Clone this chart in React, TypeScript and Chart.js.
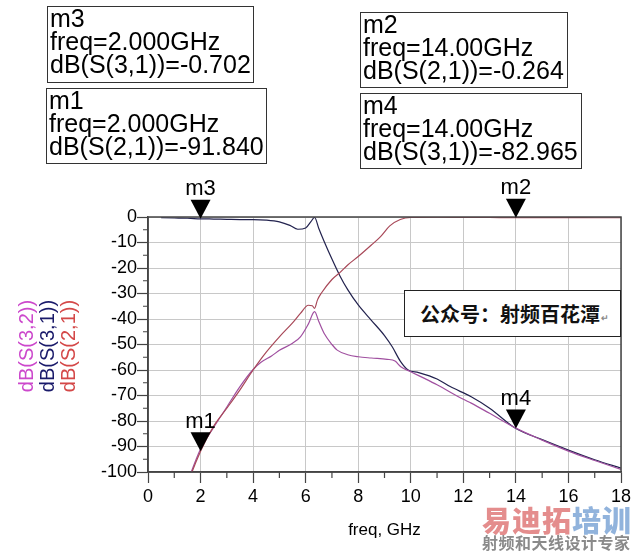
import React, { useEffect, useRef } from 'react';
import { Chart, registerables } from 'chart.js';

Chart.register(...registerables);

// ---- data ----
const s21Freq = [0.5, 1.0, 1.5, 2.0, 2.5, 3.0, 3.5, 4.0, 4.5, 5.0, 5.5, 5.8, 6.1, 6.25, 6.34, 6.45, 6.6, 7.0, 7.3, 7.6, 8.0, 8.5, 8.85, 9.2, 9.6, 10.0, 11, 12, 13, 14, 15, 16, 17, 18];
const s21dB = [-140, -122, -105, -91.84, -82, -75, -67.8, -60, -53, -47, -41.5, -37.8, -34.6, -34.8, -35.8, -32.5, -29.8, -24.5, -21.8, -18.8, -15.5, -11, -7.7, -3.5, -1.0, -0.2, -0.1, -0.15, -0.2, -0.264, -0.25, -0.25, -0.3, -0.3];

const s31Freq = [0.5, 1.0, 1.5, 2.0, 2.5, 3.0, 3.5, 4.0, 4.5, 5.0, 5.4, 5.7, 6.0, 6.2, 6.34, 6.5, 6.7, 7.0, 7.3, 7.6, 8.0, 8.5, 9.0, 9.3, 9.6, 9.9, 10.3, 11, 11.5, 12.3, 13, 14, 15, 16, 17, 18];
const s31dB = [-0.3, -0.4, -0.5, -0.702, -0.8, -0.9, -1.0, -1.0, -1.2, -1.9, -3.3, -4.8, -4.3, -1.8, -0.2, -4.5, -9.5, -16.5, -23, -28.5, -34.5, -40.5, -46.5, -51, -56.5, -60, -61, -63.5, -66.5, -70.5, -75, -82.965, -87.3, -91.4, -95.2, -98.5];

const s32Freq = [0.5, 1.0, 1.5, 2.0, 2.5, 3.0, 3.5, 4.0, 4.3, 4.7, 5.0, 5.5, 5.8, 6.1, 6.34, 6.5, 6.7, 7.0, 7.2, 7.6, 8.0, 8.5, 9.1, 9.4, 9.62, 10.0, 10.5, 11, 12, 12.3, 13, 14, 15, 16, 17, 18];
const s32dB = [-135, -118, -104, -91, -82.5, -74.5, -66.5, -59.8, -57, -54.5, -52.3, -49.5, -47, -42, -37.1, -41, -45.6, -50, -52.2, -54, -54.8, -55.3, -55.8, -56.5, -58.7, -60.7, -63.2, -65.8, -71.5, -73, -77, -82.8, -87.5, -91.8, -95.5, -99];

const traceNames = ['dB(S(3,2))', 'dB(S(3,1))', 'dB(S(2,1))'];

const markerNames = ['m3', 'm1', 'm2', 'm4'];
const markerFreq = [2, 2, 14, 14];
const markerValue = [-0.702, -91.84, -0.264, -82.965];
const markerTrace = ['dB(S(3,1))', 'dB(S(2,1))', 'dB(S(2,1))', 'dB(S(3,1))'];

const xTitle = 'freq, GHz';
const noteText = '公众号：射频百花潭';

// ---- styling ----
const FONT = '"Liberation Sans", Arial, sans-serif';
const lineColors = { s32: '#a050a0', s31: '#22224e', s21: '#a84858' };
const legendColors = ['#cc48cc', '#1a1a6a', '#d44848'];
const boxPos = [
  { left: 47, top: 6, width: 207, height: 77 },
  { left: 46, top: 88, width: 221, height: 76 },
  { left: 360, top: 12, width: 208, height: 76 },
  { left: 360, top: 93, width: 222, height: 76 },
];

const toPts = (xs: number[], ys: number[]) => xs.map((x, i) => ({ x, y: ys[i] }));

const overlayPlugin = {
  id: 'adsOverlay',
  afterDraw(chart: any) {
    const { ctx, chartArea, scales } = chart;
    const xs = scales.x;
    const ys = scales.y;
    ctx.save();
    // frame
    ctx.strokeStyle = '#444';
    ctx.lineWidth = 1.5;
    ctx.strokeRect(chartArea.left, chartArea.top, chartArea.right - chartArea.left, chartArea.bottom - chartArea.top);
    // minor ticks
    ctx.lineWidth = 1.2;
    ctx.beginPath();
    for (let v = 1; v < 18; v += 2) {
      const px = xs.getPixelForValue(v);
      ctx.moveTo(px, chartArea.bottom);
      ctx.lineTo(px, chartArea.bottom + 6);
    }
    for (let v = -95; v < 0; v += 10) {
      const py = ys.getPixelForValue(v);
      ctx.moveTo(chartArea.left, py);
      ctx.lineTo(chartArea.left - 5, py);
    }
    ctx.stroke();
    // markers
    ctx.fillStyle = '#000';
    ctx.font = `22px ${FONT}`;
    ctx.textAlign = 'center';
    ctx.textBaseline = 'alphabetic';
    markerNames.forEach((name, i) => {
      const px = xs.getPixelForValue(markerFreq[i]);
      const py = ys.getPixelForValue(markerValue[i]);
      ctx.beginPath();
      ctx.moveTo(px, py);
      ctx.lineTo(px - 10, py - 19);
      ctx.lineTo(px + 10, py - 19);
      ctx.closePath();
      ctx.fill();
      ctx.fillText(name, px, py - 23.5);
    });
    ctx.restore();
  },
};

export default function App() {
  const ref = useRef<HTMLCanvasElement | null>(null);

  useEffect(() => {
    document.body.style.margin = '0';
    if (!ref.current) return;
    const chart = new Chart(ref.current, {
      type: 'line',
      data: {
        datasets: [
          { label: traceNames[2], data: toPts(s21Freq, s21dB), borderColor: lineColors.s21, borderWidth: 1.2, pointRadius: 0, cubicInterpolationMode: 'monotone' },
          { label: traceNames[0], data: toPts(s32Freq, s32dB), borderColor: lineColors.s32, borderWidth: 1.2, pointRadius: 0, cubicInterpolationMode: 'monotone' },
          { label: traceNames[1], data: toPts(s31Freq, s31dB), borderColor: lineColors.s31, borderWidth: 1.2, pointRadius: 0, cubicInterpolationMode: 'monotone' },
        ],
      },
      options: {
        animation: false,
        responsive: false,
        events: [],
        layout: { padding: { top: 217, right: 14, left: 0, bottom: 0 } },
        plugins: { legend: { display: false }, tooltip: { enabled: false } },
        scales: {
          x: {
            type: 'linear',
            min: 0,
            max: 18,
            afterFit: (s: any) => { s.height = 82; },
            ticks: { stepSize: 2, color: '#000', font: { family: FONT, size: 18 }, padding: 3, maxRotation: 0 },
            grid: { color: '#c8c8c8', lineWidth: 1, tickLength: 11, tickColor: '#444', tickWidth: 1.2 },
            border: { color: '#444', width: 1.5 },
            title: { display: true, text: xTitle, color: '#000', font: { family: FONT, size: 17 }, padding: { top: 0, bottom: 13 } },
          },
          y: {
            type: 'linear',
            min: -100,
            max: 0,
            afterFit: (s: any) => { s.width = 148; },
            ticks: { stepSize: 10, color: '#000', font: { family: FONT, size: 18 }, padding: 0 },
            grid: { color: '#c8c8c8', lineWidth: 1, tickLength: 11, tickColor: '#444', tickWidth: 1.2 },
            border: { color: '#444', width: 1.5 },
          },
        },
      },
      plugins: [overlayPlugin],
    } as any);
    return () => chart.destroy();
  }, []);

  const boxText = (i: number) => [
    markerNames[i],
    `freq=${markerFreq[i].toPrecision(4)}GHz`,
    `${markerTrace[i]}=${markerValue[i].toFixed(3)}`,
  ];

  return (
    <div style={{ position: 'fixed', left: 0, top: 0, width: 635, height: 554, background: '#fff', overflow: 'hidden' }}>
      <canvas ref={ref} width={635} height={554} style={{ position: 'absolute', left: 0, top: 0 }} />
      {boxPos.map((p, i) => (
        <div key={i} style={{ position: 'absolute', left: p.left, top: p.top, width: p.width, height: p.height, boxSizing: 'border-box', border: '1.5px solid #333', background: '#fff', padding: '0 0 0 2px', fontFamily: FONT, fontSize: 25, lineHeight: '23px', color: '#000', whiteSpace: 'nowrap' }}>
          {boxText(i).map((t, j) => <div key={j}>{t}</div>)}
        </div>
      ))}
      {traceNames.map((t, i) => (
        <div key={t} style={{ position: 'absolute', left: 26 + i * 21, top: 346, transform: 'translate(-50%, -50%) rotate(-90deg)', fontFamily: FONT, fontSize: 20, lineHeight: '20px', color: legendColors[i], whiteSpace: 'nowrap' }}>{t}</div>
      ))}
      <div style={{ position: 'absolute', left: 404, top: 290, width: 217, height: 47, boxSizing: 'border-box', border: '1.5px solid #222', background: '#fff', display: 'flex', alignItems: 'center', paddingLeft: 15, fontFamily: '"Noto Sans CJK SC", sans-serif', fontWeight: 700, fontSize: 20, color: '#111', whiteSpace: 'nowrap' }}>
        {noteText}<span style={{ fontSize: 9, color: '#888', marginLeft: 1, alignSelf: 'flex-end', marginBottom: 12 }}>↵</span>
      </div>
      <div style={{ position: 'absolute', left: 482, top: 503, fontFamily: '"Noto Sans CJK SC", sans-serif', fontWeight: 900, fontSize: 29, lineHeight: '32px', whiteSpace: 'nowrap', opacity: 0.85, letterSpacing: 1 }}>
        <span style={{ color: '#e07a7a' }}>易迪拓</span><span style={{ color: '#7ea6d6' }}>培训</span>
      </div>
      <div style={{ position: 'absolute', left: 482, top: 532, fontFamily: '"Noto Sans CJK SC", sans-serif', fontWeight: 700, fontSize: 16, lineHeight: '20px', color: '#8a8a8a', whiteSpace: 'nowrap', letterSpacing: 0.5 }}>
        射频和天线设计专家
      </div>
    </div>
  );
}
